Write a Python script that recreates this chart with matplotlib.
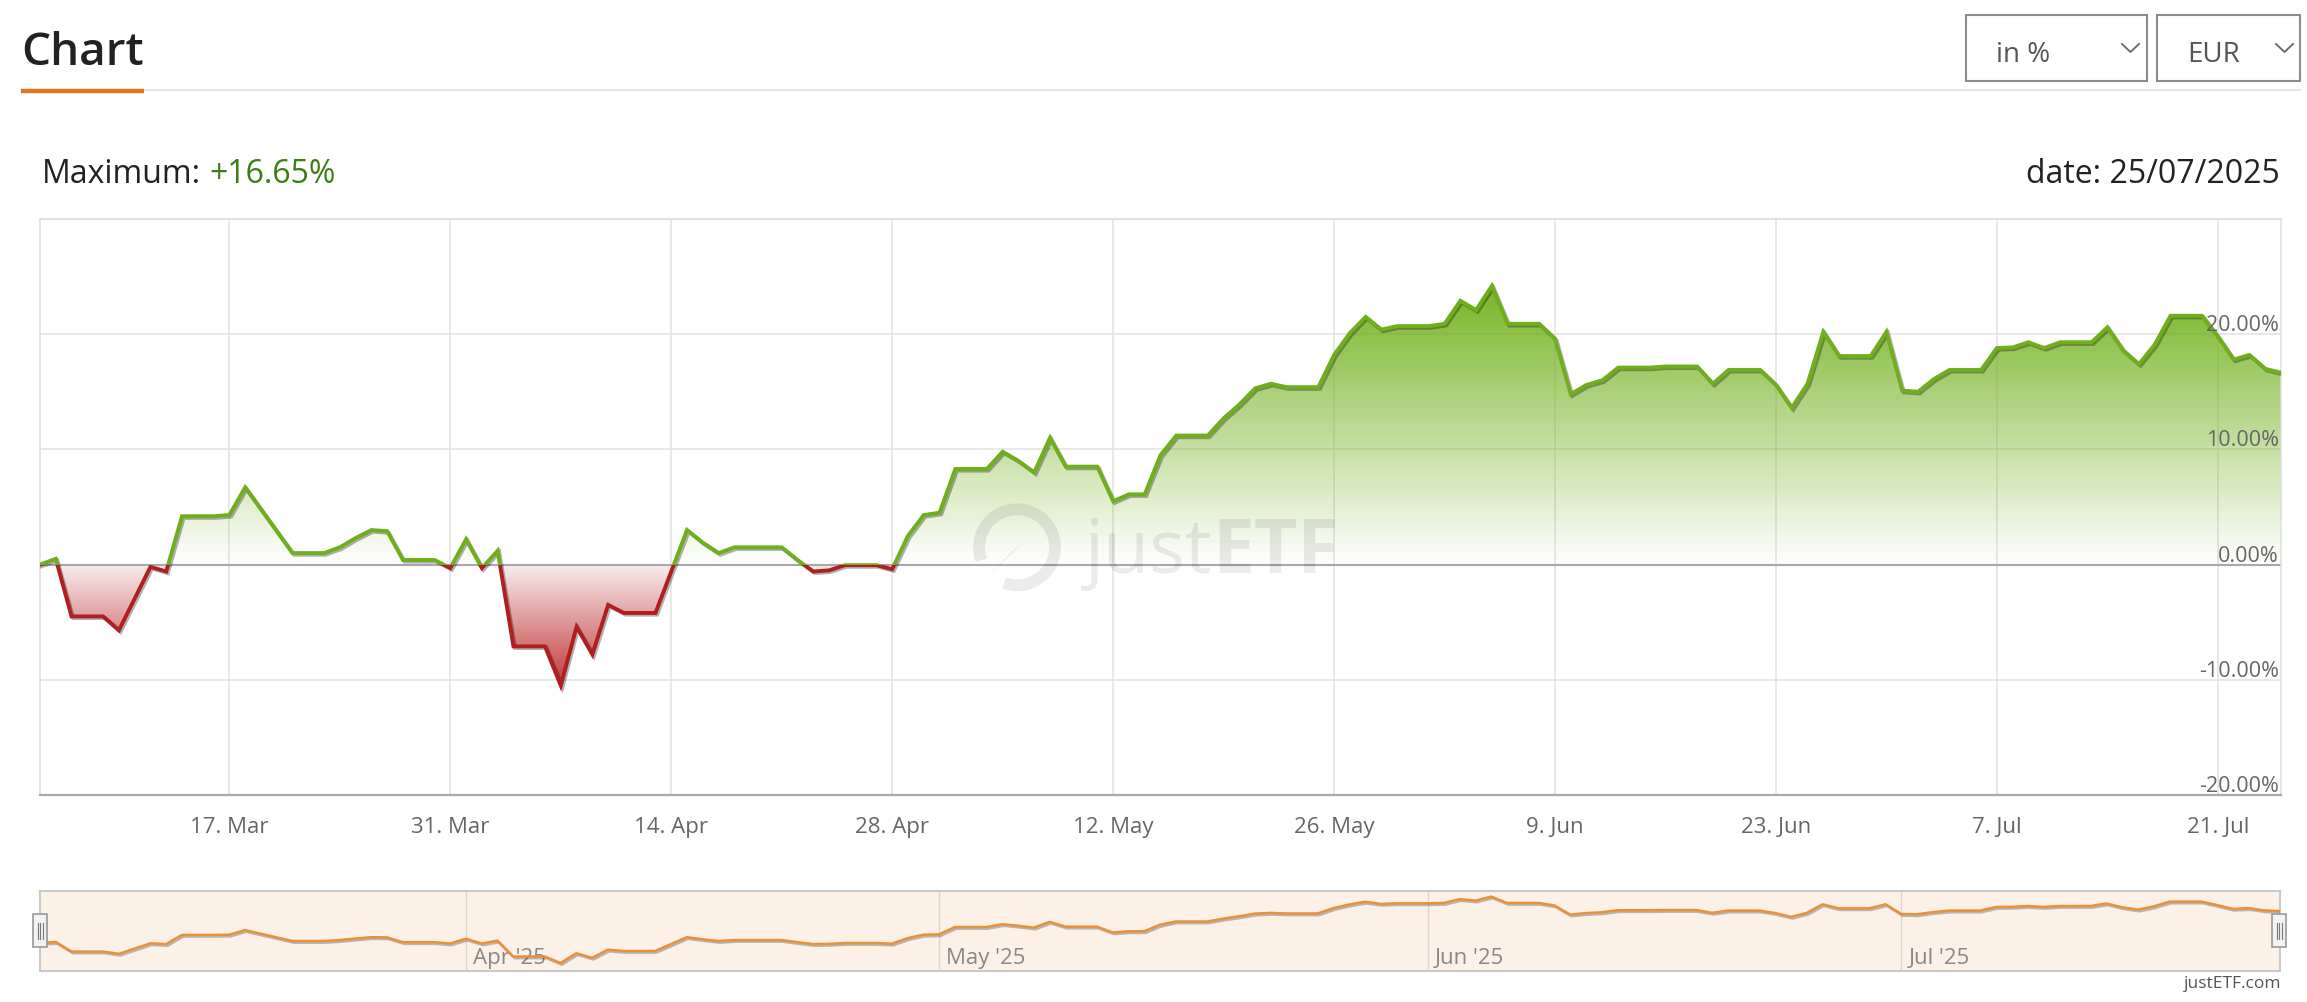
import numpy as np
import pandas as pd
import matplotlib
matplotlib.use("Agg")
import matplotlib.pyplot as plt
import matplotlib.dates as mdates
import matplotlib.transforms as mtransforms
from matplotlib import patheffects
from matplotlib.patches import Rectangle, Arc, Polygon
from matplotlib.lines import Line2D
from matplotlib.path import Path

# performance in % (vertices; weekends carry the last value)
DATES = [
    "2025-03-05", "2025-03-06", "2025-03-07", "2025-03-09", "2025-03-10", "2025-03-12",
    "2025-03-13", "2025-03-14", "2025-03-16", "2025-03-17", "2025-03-18", "2025-03-19",
    "2025-03-20", "2025-03-21", "2025-03-23", "2025-03-24", "2025-03-25", "2025-03-26",
    "2025-03-27", "2025-03-28", "2025-03-30", "2025-03-31", "2025-04-01", "2025-04-02",
    "2025-04-03", "2025-04-04", "2025-04-06", "2025-04-07", "2025-04-08", "2025-04-09",
    "2025-04-10", "2025-04-11", "2025-04-13", "2025-04-14", "2025-04-15", "2025-04-16",
    "2025-04-17", "2025-04-18", "2025-04-21", "2025-04-22", "2025-04-23", "2025-04-24",
    "2025-04-25", "2025-04-27", "2025-04-28", "2025-04-29", "2025-04-30", "2025-05-01",
    "2025-05-02", "2025-05-04", "2025-05-05", "2025-05-06", "2025-05-07", "2025-05-08",
    "2025-05-09", "2025-05-11", "2025-05-12", "2025-05-13", "2025-05-14", "2025-05-15",
    "2025-05-16", "2025-05-18", "2025-05-19", "2025-05-20", "2025-05-21", "2025-05-22",
    "2025-05-23", "2025-05-25", "2025-05-26", "2025-05-27", "2025-05-28", "2025-05-29",
    "2025-05-30", "2025-06-01", "2025-06-02", "2025-06-03", "2025-06-04", "2025-06-05",
    "2025-06-06", "2025-06-08", "2025-06-09", "2025-06-10", "2025-06-11", "2025-06-12",
    "2025-06-13", "2025-06-15", "2025-06-16", "2025-06-18", "2025-06-19", "2025-06-20",
    "2025-06-22", "2025-06-23", "2025-06-24", "2025-06-25", "2025-06-26", "2025-06-27",
    "2025-06-29", "2025-06-30", "2025-07-01", "2025-07-02", "2025-07-03", "2025-07-04",
    "2025-07-06", "2025-07-07", "2025-07-08", "2025-07-09", "2025-07-10", "2025-07-11",
    "2025-07-13", "2025-07-14", "2025-07-15", "2025-07-16", "2025-07-17", "2025-07-18",
    "2025-07-20", "2025-07-21", "2025-07-22", "2025-07-23", "2025-07-24", "2025-07-25",
]
VALUES = [
    0.0, 0.5, -4.5, -4.5, -5.7, -0.2,
    -0.6, 4.2, 4.2, 4.3, 6.7, 4.8,
    2.9, 1.0, 1.0, 1.5, 2.3, 3.0,
    2.9, 0.4, 0.4, -0.3, 2.2, -0.3,
    1.2, -7.1, -7.1, -10.5, -5.4, -7.8,
    -3.5, -4.2, -4.2, -0.6, 3.0, 1.9,
    1.0, 1.5, 1.5, 0.4, -0.6, -0.5,
    -0.05, -0.05, -0.4, 2.5, 4.3, 4.5,
    8.3, 8.3, 9.8, 9.0, 8.0, 11.0,
    8.5, 8.5, 5.5, 6.1, 6.1, 9.5,
    11.2, 11.2, 12.7, 13.9, 15.3, 15.7,
    15.4, 15.4, 18.2, 20.1, 21.5, 20.4,
    20.7, 20.7, 20.9, 22.9, 22.1, 24.2,
    20.9, 20.9, 19.6, 14.8, 15.6, 16.0,
    17.1, 17.1, 17.2, 17.2, 15.7, 16.9,
    16.9, 15.6, 13.6, 15.7, 20.2, 18.1,
    18.1, 20.2, 15.1, 15.0, 16.1, 16.9,
    16.9, 18.8, 18.85, 19.3, 18.8, 19.3,
    19.3, 20.6, 18.6, 17.4, 19.1, 21.6,
    21.6, 19.8, 17.8, 18.2, 17.0, 16.65,
]

Y_TICKS = [-20, -10, 0, 10, 20, 30]
Y_LABELED = [-20, -10, 0, 10, 20]
X_TICK_START, X_TICK_END = "2025-03-17", "2025-07-21"
NAV_MONTHS = ["2025-04-01", "2025-05-01", "2025-06-01", "2025-07-01"]

W_PX, H_PX = 2307, 1003
plt.rcParams["font.family"] = ["Open Sans", "DejaVu Sans"]

GREEN = "#6fae1c"
RED = "#b01e1e"
ORANGE = "#e8903a"

x = mdates.date2num(pd.to_datetime(DATES))
y = np.array(VALUES)

fig = plt.figure(figsize=(W_PX / 100, H_PX / 100), dpi=100)


def fx(px):
    return px / W_PX


def fy(py):
    return 1 - py / H_PX


# ---- header -------------------------------------------------------------
fig.text(fx(21), fy(65), "Chart", fontsize=33, fontweight="semibold", color="#222222",
         va="baseline", ha="left")
fig.add_artist(Line2D([fx(21), fx(2300)], [fy(91), fy(91)], color="#dfe5ea", lw=1.5))
fig.add_artist(Line2D([fx(21), fx(144)], [fy(92), fy(92)], color="#e2731f", lw=3.2,
                      solid_capstyle="butt"))

for (l, r), label, (c0, c1) in [((1966, 2147), "in %", (2122, 2139)),
                                ((2157, 2300), "EUR", (2276, 2293))]:
    fig.add_artist(Rectangle((fx(l), fy(82)), fx(r - l), 66 / H_PX, transform=fig.transFigure,
                             facecolor="white", edgecolor="#8c8c8c", lw=1.5))
    fig.text(fx(l + 30), fy(62), label, fontsize=20, color="#555555", va="baseline")
    fig.add_artist(Line2D([fx(c0), fx((c0 + c1) / 2), fx(c1)], [fy(45), fy(53), fy(45)],
                          color="#666666", lw=1.3))

# ---- main axes ----------------------------------------------------------
ax = fig.add_axes([fx(40), fy(796), fx(2281 - 40), (796 - 220) / H_PX])
ax.set_xlim(x[0], x[-1])
ax.set_ylim(-20, 30)

t1 = fig.text(fx(42), fy(183), "Maximum:", fontsize=23, color="#222222", va="baseline")
ax.annotate("+16.65%", xy=(1, 0), xycoords=t1, xytext=(6, 0), textcoords="offset points",
            fontsize=23, color="#3b7d12", va="bottom", ha="left", annotation_clip=False)
fig.text(fx(2280), fy(183), "date: 25/07/2025", fontsize=23, color="#222222",
         va="baseline", ha="right")

xticks = mdates.date2num(pd.date_range(X_TICK_START, X_TICK_END, freq="14D"))
ax.set_xticks(xticks)
ax.set_xticklabels([d.strftime("%-d. %b") for d in mdates.num2date(xticks)])
ax.set_yticks(Y_TICKS)
ax.set_yticklabels([])
ax.tick_params(axis="both", length=0)
ax.tick_params(axis="x", pad=15, labelsize=16, labelcolor="#666666")
ax.grid(True, color="#e1e1e1", lw=1.1)
ax.set_axisbelow(True)
for side in ["top", "left", "right"]:
    ax.spines[side].set_color("#dcdcdc")
    ax.spines[side].set_linewidth(1.1)
ax.spines["bottom"].set_color("#ababab")
ax.spines["bottom"].set_linewidth(1.6)
ax.axhline(0, color="#a8a8a8", lw=1.5, zorder=2)

ylab_trans = mtransforms.offset_copy(ax.get_yaxis_transform(), fig=fig, x=-2, y=4, units="dots")
for v in Y_LABELED:
    ax.text(1, v, f"{v:.2f}%", transform=ylab_trans, ha="right", va="baseline",
            fontsize=15.5, color="#666666", zorder=6)

# gradient fill between the curve and zero, green above / red below
fill = ax.fill_between(x, y, 0, facecolor="none", edgecolor="none")
clip_path = Path.make_compound_path(*fill.get_paths())
levels = np.linspace(-20, 30, 600)
img = np.zeros((len(levels), 1, 4))
pos = np.clip(levels / y.max(), 0, 1)
neg = np.clip(levels / y.min(), 0, 1)
img[:, 0, :3] = np.where(levels[:, None] >= 0, [0.45, 0.70, 0.12], [0.72, 0.11, 0.11])
img[:, 0, 3] = np.where(levels >= 0, 0.97 * pos, 0.08 + 0.8 * neg)
im = ax.imshow(img, extent=[x[0], x[-1], -20, 30], origin="lower", aspect="auto",
               zorder=1, interpolation="bilinear")
im.set_clip_path(clip_path, transform=ax.transData)

# watermark
wm = ax.text(0.466, 0.387, "just", transform=ax.transAxes, fontsize=54, color="black",
             alpha=0.08, va="baseline", ha="left", zorder=2)
ax.annotate("ETF", xy=(1, 0), xycoords=wm, xytext=(0, 0), textcoords="offset points",
            fontsize=54, fontweight="bold", color="black", alpha=0.08, va="bottom",
            ha="left", zorder=2)
logo_t = fig.dpi_scale_trans + mtransforms.ScaledTranslation(0.436, 0.43, ax.transAxes)
ax.add_patch(Arc((0, 0), 0.76, 0.76, theta1=250, theta2=200, transform=logo_t,
                 color="black", alpha=0.08, lw=8.5, zorder=2))
ax.add_patch(Polygon([[0.05, 0.04], [-0.05, -0.04], [-0.33, -0.33]], closed=True,
                     transform=logo_t, color="black", alpha=0.08, lw=0, zorder=2))

shadow = [patheffects.SimpleLineShadow(offset=(1.2, -1.2), alpha=0.3), patheffects.Normal()]
upper = Rectangle((x[0], 0), x[-1] - x[0], 30, transform=ax.transData)
lower = Rectangle((x[0], -20), x[-1] - x[0], 20, transform=ax.transData)
(lg,) = ax.plot(x, y, color=GREEN, lw=2.8, zorder=4, path_effects=shadow,
                solid_joinstyle="miter")
lg.set_clip_path(upper)
(lr,) = ax.plot(x, y, color=RED, lw=2.8, zorder=4, path_effects=shadow,
                solid_joinstyle="miter")
lr.set_clip_path(lower)

# ---- navigator ----------------------------------------------------------
nav = fig.add_axes([fx(40), fy(971.7), fx(2280 - 40), (971.7 - 891.7) / H_PX])
nav.set_facecolor("#fcf1e6")
nav.set_xlim(x[0], x[-1])
nav.set_ylim(-14.5, 27.3)
nav.set_xticks([])
nav.set_yticks([])
for s in nav.spines.values():
    s.set_color("#c9c9c9")
    s.set_linewidth(1.5)
month_x = mdates.date2num(pd.to_datetime(NAV_MONTHS))
lab_trans = mtransforms.offset_copy(nav.get_xaxis_transform(), fig=fig, x=7, y=8, units="dots")
for mx in month_x:
    nav.axvline(mx, color="#dcd5cd", lw=1.0, zorder=1)
    nav.text(mx, 0, mdates.num2date(mx).strftime("%b '%y"), transform=lab_trans,
             fontsize=16, color="#888888", va="baseline", ha="left", zorder=1)
nav.plot(x, y, color=ORANGE, lw=1.8, zorder=3,
         path_effects=[patheffects.SimpleLineShadow(offset=(1, -1.2), alpha=0.25),
                       patheffects.Normal()])

for cx in (40, 2279):
    fig.add_artist(Rectangle((fx(cx - 7), fy(948)), 14 / W_PX, 33 / H_PX,
                             transform=fig.transFigure, facecolor="#f2f2f2",
                             edgecolor="#999999", lw=1.2, zorder=10))
    for dx in (-2.5, 0, 2.5):
        fig.add_artist(Line2D([fx(cx + dx)] * 2, [fy(924), fy(940)], color="#777777",
                              lw=0.8, zorder=11))

fig.text(fx(2281), fy(984), "justETF.com", fontsize=12.5, color="#555555",
         ha="right", va="center")

fig.savefig("out.png", dpi=100)
